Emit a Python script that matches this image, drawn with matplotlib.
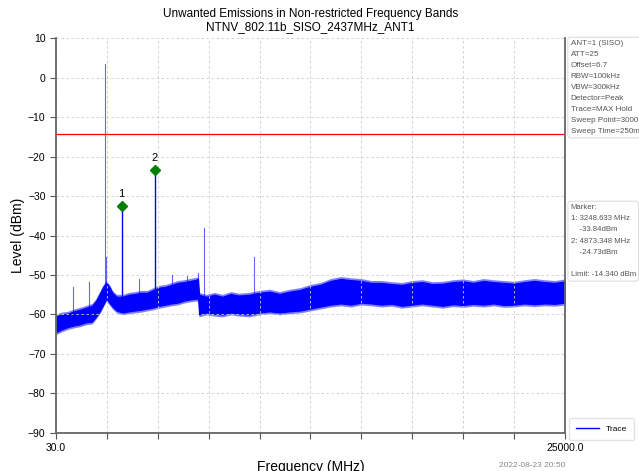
import numpy as np
from matplotlib import pyplot as plt

plt.rcParams['font.family'] = ['Liberation Sans', 'DejaVu Sans']

# noise floor envelope (MHz, lower dBm, upper dBm)
env_freq = [30, 300, 600, 900, 1200, 1500, 1800, 2000, 2200, 2350, 2500, 2650,
            2800, 3000, 3300, 3600, 3900, 4200, 4500, 4800, 5100, 5400, 5700,
            6000, 6300, 6600, 6900, 7000, 7050, 7400, 7800, 8200, 8600, 9000,
            9500, 10000, 10500, 11000, 11500, 12000, 12500, 13000, 13500, 14000,
            14500, 15000, 15500, 16000, 16500, 17000, 17500, 18000, 18500, 19000,
            19500, 20000, 20500, 21000, 21500, 22000, 22500, 23000, 23500, 24000,
            24500, 25000]
env_low = [-64.5, -63.8, -63.2, -62.8, -62.5, -62.0, -61.8, -60.5, -59.0, -57.5,
           -56.0, -57.0, -58.0, -59.0, -59.5, -59.2, -59.0, -58.8, -58.5, -58.2,
           -57.8, -57.5, -57.2, -57.0, -56.5, -56.2, -56.0, -56.0, -60.0, -59.5,
           -59.8, -60.0, -59.5, -59.8, -60.0, -59.5, -59.2, -59.5, -59.2, -59.0,
           -58.5, -58.0, -57.5, -57.2, -57.5, -57.0, -57.2, -57.5, -57.3, -57.8,
           -57.5, -57.2, -57.5, -57.8, -57.4, -57.6, -57.3, -57.5, -57.2, -57.6,
           -57.5, -57.2, -57.4, -57.2, -57.3, -57.0]
env_high = [-60.5, -60.0, -59.8, -59.2, -58.8, -58.3, -57.8, -56.5, -54.5, -53.0,
            -52.0, -53.0, -54.5, -55.5, -55.5, -55.0, -54.8, -54.5, -54.5, -53.8,
            -53.2, -53.0, -52.5, -52.0, -51.8, -51.5, -51.2, -51.0, -55.0, -55.5,
            -55.0, -55.5, -54.8, -55.2, -55.0, -54.5, -54.2, -54.8, -54.2, -53.8,
            -53.0, -52.5, -51.5, -51.0, -51.3, -51.5, -52.0, -52.0, -52.3, -52.5,
            -52.0, -51.8, -52.3, -52.2, -51.8, -51.6, -52.0, -51.5, -51.8, -52.0,
            -52.2, -51.8, -51.5, -51.8, -52.0, -51.6]

# narrow spurs (MHz, base dBm, top dBm)
spur_freq = [850, 1660, 2437, 2500, 4090, 5720, 6440, 6990, 7310, 9760]
spur_base = [-61.0, -60.0, -56.0, -54.0, -57.0, -55.0, -54.0, -53.0, -57.0, -57.0]
spur_top = [-53.0, -51.8, 3.5, -45.5, -51.0, -50.0, -50.3, -49.6, -38.1, -45.5]

marker_freq = [3248.633, 4873.348]
marker_level = [-33.84, -24.73]
marker_names = ['1', '2']
limit = -14.340

fig = plt.figure(figsize=(6.39, 4.71), dpi=100)
ax = fig.add_axes([0.0876, 0.0807, 0.7966, 0.8386])

lo = np.array(env_low)
hi = np.array(env_high)
# soft fringe then solid band
ax.fill_between(env_freq, lo - 0.6, hi + 0.6, color='blue', alpha=0.5,
                linewidth=0)
ax.fill_between(env_freq, lo, hi, color='blue', linewidth=0.8,
                edgecolor='blue')
for f, b, t in zip(spur_freq, spur_base, spur_top):
    ax.plot([f, f], [b, t], color='blue', linewidth=0.8, alpha=0.6)
for f, lv, n in zip(marker_freq, marker_level, marker_names):
    ax.plot([f, f], [-57, lv + 1.4], color='blue', linewidth=1.0)
    ax.plot(f, lv + 1.4, marker='D', color='green', markersize=5)
    ax.text(f, lv + 3.2, n, ha='center', va='bottom', fontsize=8)
ax.axhline(limit, color='red', linewidth=0.9)

ax.set_xlim(30, 25000)
ax.set_ylim(-90, 10)
ax.set_yticks(np.arange(-90, 11, 10))
xt = np.linspace(30, 25000, 11)
ax.set_xticks(xt)
ax.set_xticklabels(['30.0'] + [''] * 9 + ['25000.0'])
ax.grid(True, color='#cccccc', linestyle=(0, (3, 3)), linewidth=0.6)
ax.tick_params(labelsize=7.5, color='#555555', length=4)
for s in ['left', 'bottom', 'right']:
    ax.spines[s].set_color('#666666')
    ax.spines[s].set_linewidth(1.3)
ax.spines['top'].set_visible(False)

ax.set_xlabel('Frequency (MHz)', fontsize=10, labelpad=5)
ax.set_ylabel('Level (dBm)', fontsize=10, labelpad=2)
ax.set_title('Unwanted Emissions in Non-restricted Frequency Bands\n'
             'NTNV_802.11b_SISO_2437MHz_ANT1', fontsize=8.5, pad=6,
             linespacing=1.05)

box = dict(boxstyle='round,pad=0.35', facecolor='white', edgecolor='#dddddd',
           linewidth=0.8)
info = ('ANT=1 (SISO)\nATT=25\nOffset=6.7\nRBW=100kHz\nVBW=300kHz\n'
        'Detector=Peak\nTrace=MAX Hold\nSweep Point=3000\nSweep Time=250ms')
fig.text(0.893, 0.915, info, fontsize=5.8, color='#555555', va='top',
         ha='left', bbox=box, linespacing=1.8)
mtxt = ('Marker:\n1: 3248.633 MHz\n    -33.84dBm\n2: 4873.348 MHz\n'
        '    -24.73dBm\n\nLimit: -14.340 dBm')
fig.text(0.893, 0.567, mtxt, fontsize=5.6, color='#555555', va='top',
         ha='left', bbox=box, linespacing=1.85)

leg_line, = ax.plot([], [], color='blue', linewidth=1, label='Trace')
fig.legend(handles=[leg_line], loc='lower left',
           bbox_to_anchor=(0.884, 0.058), fontsize=6, frameon=True,
           handlelength=2.8, borderpad=0.8, edgecolor='#dddddd',
           fancybox=True)

fig.text(0.884, 0.005, '2022-08-23 20:50', fontsize=6, color='#888888',
         ha='right', va='bottom')

fig.savefig('out.png', dpi=100)
